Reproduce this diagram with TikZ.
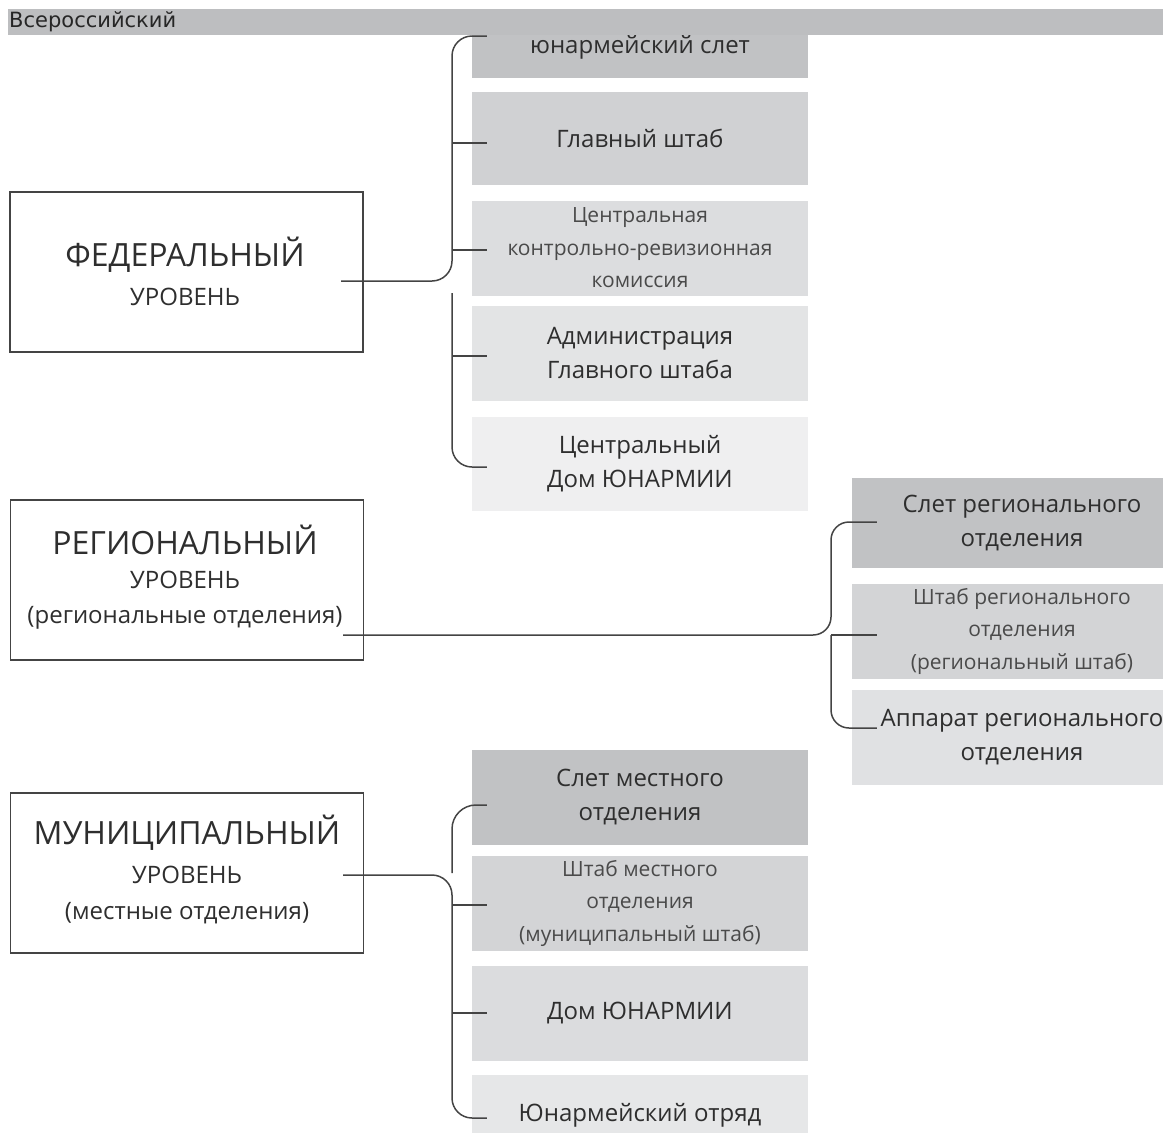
\documentclass[tikz,border=0pt]{standalone}
\usepackage{fontspec}
\setmainfont{Open Sans}
\newfontfamily\hdrfont{DejaVu Sans}
\definecolor{banner}{HTML}{BDBEC0}
\definecolor{gA}{HTML}{C1C2C4}
\definecolor{gB}{HTML}{D0D1D3}
\definecolor{gC}{HTML}{DCDDDF}
\definecolor{gD}{HTML}{E3E4E5}
\definecolor{gE}{HTML}{EFEFF0}
\definecolor{gF}{HTML}{D3D4D6}
\definecolor{gG}{HTML}{E0E1E3}
\definecolor{gH}{HTML}{DBDCDE}
\definecolor{gI}{HTML}{E6E7E8}
\definecolor{txt}{HTML}{2E2E2E}
\definecolor{lightxt}{HTML}{4A4A4A}
\definecolor{ln}{HTML}{444444}
\tikzset{
  cbox/.style={fill=#1, minimum width=336pt, inner sep=0pt, align=center, text=txt,
    font=\fontsize{24}{34}\selectfont},
  smalltext/.style={font=\fontsize{21}{32.5}\selectfont, text=lightxt},
  lvlbox/.style={draw=ln, line width=1.4pt, minimum width=353pt, minimum height=160pt, inner sep=0pt},
  bigtxt/.style={font=\fontsize{32}{32}\selectfont, text=txt, inner sep=0pt},
  midtxt/.style={font=\fontsize{24}{24}\selectfont, text=txt, inner sep=0pt},
  conn/.style={draw=ln, line width=1.5pt, rounded corners=20pt},
  tick/.style={draw=ln, line width=1.5pt}
}
\begin{document}
\begin{tikzpicture}[x=1pt,y=-1pt]
\useasboundingbox (0,0) rectangle (1163,1133);
% federal column
\node[cbox=gA, minimum height=62pt] (b1) at (640,47) {юнармейский слет};
\node[cbox=gB, minimum height=93pt] (b2) at (640,138.5) {Главный штаб};
\node[cbox=gC, minimum height=95pt, smalltext] (b3) at (640,248) {Центральная\\контрольно-ревизионная\\комиссия};
\node[cbox=gD, minimum height=95pt] (b4) at (640,353.5) {Администрация\\Главного штаба};
\node[cbox=gE, minimum height=94pt] (b5) at (640,464) {Центральный\\Дом ЮНАРМИИ};
% regional column
\node[cbox=gA, minimum width=340pt, minimum height=90pt] (r1) at (1022,523) {Слет регионального\\отделения};
\node[cbox=gF, minimum width=340pt, minimum height=95pt, smalltext] (r2) at (1022,631) {Штаб регионального\\отделения\\(региональный штаб)};
\node[cbox=gG, minimum width=340pt, minimum height=95pt] (r3) at (1022,737.5) {Аппарат регионального\\отделения};
% municipal column
\node[cbox=gA, minimum height=95pt] (m1) at (640,797.5) {Слет местного\\отделения};
\node[cbox=gF, minimum height=95pt, smalltext] (m2) at (640,903) {Штаб местного\\отделения\\(муниципальный штаб)};
\node[cbox=gH, minimum height=95pt] (m3) at (640,1013) {Дом ЮНАРМИИ};
\node[cbox=gI, minimum height=95pt] (m4) at (640,1122.5) {};
\node[font=\fontsize{24}{24}\selectfont, text=txt, inner sep=0pt] (m4t) at (640,1115) {Юнармейский отряд};
% banner
\fill[banner] (8,9) rectangle (1163,35);
\node[anchor=west, inner sep=0pt, font=\hdrfont\fontsize{21}{21}\selectfont, text=black!85] (hdr) at (9,22) {Всероссийский};
% level boxes
\node[lvlbox] (fed) at (186.5,272) {};
\node[bigtxt] (fedA) at (185,255) {ФЕДЕРАЛЬНЫЙ};
\node[midtxt] (fedB) at (185,297) {УРОВЕНЬ};
\node[lvlbox] (reg) at (187,580) {};
\node[bigtxt] (regA) at (185,540) {РЕГИОНАЛЬНЫЙ};
\node[midtxt] (regB) at (185,580) {УРОВЕНЬ};
\node[midtxt] (regC) at (185,618) {(региональные отделения)};
\node[lvlbox] (mun) at (187,873) {};
\node[bigtxt] (munA) at (187,833) {МУНИЦИПАЛЬНЫЙ};
\node[midtxt] (munB) at (187,875) {УРОВЕНЬ};
\node[midtxt] (munC) at (187,913) {(местные отделения)};
% connector points
\coordinate (fo) at (341,281);
\coordinate (ro) at (343,635);
\coordinate (mo) at (343,875);
% federal bracket
\draw[conn] (fo) -- (452,281) -- (452,36) -- ([xshift=15pt]b1.west |- 0,36);
\draw[tick] (452,143) -- ([xshift=15pt]b2.west |- 0,143);
\draw[tick] (452,250) -- ([xshift=15pt]b3.west |- 0,250);
\draw[conn] (452,293) -- (452,467) -- ([xshift=15pt]b5.west |- 0,467);
\draw[tick] (452,356) -- ([xshift=15pt]b4.west |- 0,356);
% regional bracket
\draw[conn, rounded corners=18pt] (ro) -- (831,635) -- (831,522) -- ([xshift=25pt]r1.west |- 0,522);
\draw[tick] (831,635) -- ([xshift=25pt]r2.west |- 0,635);
\draw[conn, rounded corners=18pt] (831,635) -- (831,728) -- ([xshift=25pt]r3.west |- 0,728);
% municipal bracket
\draw[conn] (mo) -- (452,875) -- (452,1118) -- ([xshift=15pt]m4.west |- 0,1118);
\draw[conn, rounded corners=24pt] (452,873) -- (452,805) -- ([xshift=15pt]m1.west |- 0,805);
\draw[tick] (452,905) -- ([xshift=15pt]m2.west |- 0,905);
\draw[tick] (452,1013) -- ([xshift=15pt]m3.west |- 0,1013);
\end{tikzpicture}
\end{document}
